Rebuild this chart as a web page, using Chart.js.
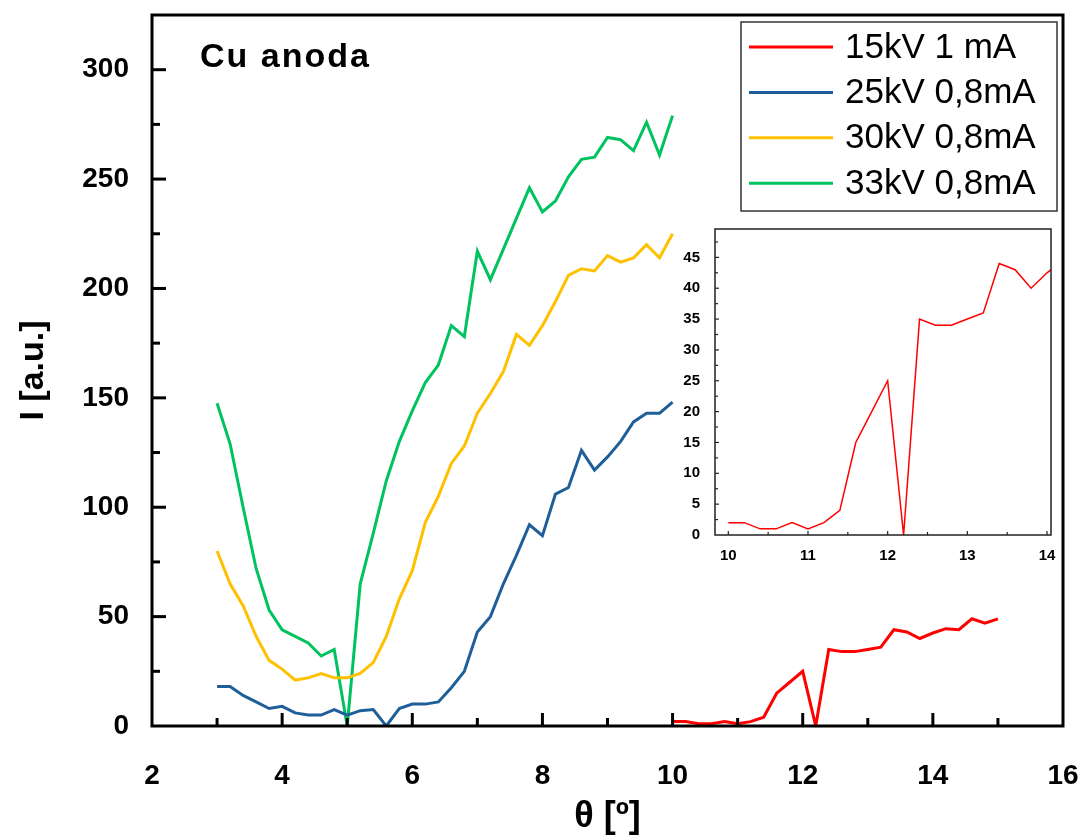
<!DOCTYPE html>
<html>
<head>
<meta charset="utf-8">
<script src="https://cdn.jsdelivr.net/npm/chart.js@4.4.0/dist/chart.umd.min.js"></script>
<style>
  html, body { margin: 0; padding: 0; background: #fff; }
  #wrap { position: relative; width: 1082px; height: 835px; }
  #main { position: absolute; left: 0; top: 0; }
  #inset { position: absolute; left: 680px; top: 222px; }
</style>
</head>
<body>
<div id="wrap">
  <canvas id="main" width="1082" height="835"></canvas>
  <canvas id="inset" width="380" height="340"></canvas>
</div>
<script>
// angles (deg) for the 25/30/33 kV scans
const theta = [3.0, 3.2, 3.4, 3.6, 3.8, 4.0, 4.2, 4.4, 4.6, 4.8, 5.0, 5.2, 5.4, 5.6, 5.8, 6.0, 6.2, 6.4,
               6.6, 6.8, 7.0, 7.2, 7.4, 7.6, 7.8, 8.0, 8.2, 8.4, 8.6, 8.8, 9.0, 9.2, 9.4, 9.6, 9.8, 10.0];
const i25kV = [18, 18, 14, 11, 8, 9, 6, 5, 5, 7.5, 5, 7, 7.5, 0, 8, 10, 10, 11,
               17.5, 25, 43, 50, 65, 78, 92, 87, 106, 109, 126, 117, 123, 130, 139, 143, 143, 148];
const i30kV = [80, 65, 55, 41, 30, 26, 21, 22, 24, 22, 22, 24, 29, 41, 58, 71, 93, 105,
               120, 128, 143, 152, 162, 179, 174, 183, 194, 206, 209, 208, 215, 212, 214, 220, 214, 225];
const i33kV = [147.5, 129, 100, 72, 53, 44, 41, 38, 32, 35, 0, 65, 88, 112, 130, 144, 157, 165,
               183, 178, 217, 204, 218, 232, 246, 235, 240, 251, 259, 260, 269, 268, 263, 276, 261, 279];

// 15 kV scan
const thetaRed = [10.0, 10.2, 10.4, 10.6, 10.8, 11.0, 11.2, 11.4, 11.6, 11.8, 12.0, 12.2, 12.4,
                  12.6, 12.8, 13.0, 13.2, 13.4, 13.6, 13.8, 14.0, 14.2, 14.4, 14.6, 14.8, 15.0];
const i15kV = [2, 2, 1, 1, 2, 1, 2, 4, 15, 20, 25, 0, 35,
               34, 34, 35, 36, 44, 43, 40, 42.5, 44.5, 44, 49, 47, 49];

const seriesLabels = ['15kV 1 mA', '25kV 0,8mA', '30kV 0,8mA', '33kV 0,8mA'];
const seriesColors = ['#ff0000', '#1f5f99', '#ffc000', '#00c25e'];

const FONT = "'Liberation Sans', Arial, sans-serif";

const pts = (xs, ys) => xs.map((x, i) => ({ x: x, y: ys[i] }));

function line(ctx, x1, y1, x2, y2) {
    ctx.beginPath();
    ctx.moveTo(x1, y1);
    ctx.lineTo(x2, y2);
    ctx.stroke();
}

// keep the label overhang from pushing the plot area in
const fitX = (h) => (s) => { s.height = h; s.paddingLeft = 0; s.paddingRight = 0; };
const fitY = (w) => (s) => { s.width = w; s.paddingTop = 0; s.paddingBottom = 0; };

// frame, inward ticks, title text and the boxed legend
const mainDecor = {
    id: 'mainDecor',
    afterDraw(chart) {
        const { ctx, chartArea: a, scales: { x, y } } = chart;
        ctx.save();
        ctx.strokeStyle = '#000';
        ctx.lineWidth = 3;
        for (let v = 3; v < 16; v += 1) {
            const px = x.getPixelForValue(v);
            line(ctx, px, a.bottom, px, a.bottom - (v % 2 === 0 ? 13 : 8));
        }
        for (let v = 25; v <= 300; v += 25) {
            const py = y.getPixelForValue(v);
            line(ctx, a.left, py, a.left + (v % 50 === 0 ? 14 : 8), py);
        }
        ctx.strokeRect(a.left, a.top, a.right - a.left, a.bottom - a.top);

        ctx.fillStyle = '#000';
        ctx.font = 'bold 34px ' + FONT;
        ctx.letterSpacing = '2px';
        ctx.textBaseline = 'alphabetic';
        ctx.fillText('Cu anoda', a.left + 48, a.top + 52);
        ctx.letterSpacing = '0px';

        const lx = a.right - 322, ly = a.top + 7;
        ctx.fillStyle = '#fff';
        ctx.fillRect(lx, ly, 316, 189);
        ctx.lineWidth = 1.5;
        ctx.strokeStyle = '#333';
        ctx.strokeRect(lx, ly, 316, 189);
        ctx.font = '35px ' + FONT;
        ctx.textBaseline = 'middle';
        chart.data.datasets.forEach((ds, i) => {
            const ry = ly + 25 + i * 45.4;
            ctx.strokeStyle = ds.borderColor;
            ctx.lineWidth = 3;
            line(ctx, lx + 8, ry, lx + 92, ry);
            ctx.fillStyle = '#000';
            ctx.fillText(ds.label, lx + 104, ry + 1);
        });
        ctx.restore();
    }
};

const insetDecor = {
    id: 'insetDecor',
    beforeDraw(chart) {
        const { ctx, width, height } = chart;
        ctx.save();
        ctx.fillStyle = '#fff';
        ctx.fillRect(0, 0, width, height);
        ctx.restore();
    },
    afterDraw(chart) {
        const { ctx, chartArea: a, scales: { x, y } } = chart;
        ctx.save();
        ctx.strokeStyle = '#222';
        ctx.lineWidth = 1.2;
        for (let v = 10; v <= 14; v += 0.5) {
            const px = x.getPixelForValue(v);
            line(ctx, px, a.bottom, px, a.bottom - (v % 1 === 0 ? 4 : 3));
        }
        for (let v = 2.5; v <= 47.5; v += 2.5) {
            const py = y.getPixelForValue(v);
            line(ctx, a.left, py, a.left + (v % 5 === 0 ? 4 : 3), py);
        }
        ctx.lineWidth = 1.5;
        ctx.strokeRect(a.left, a.top, a.right - a.left, a.bottom - a.top);
        ctx.restore();
    }
};

const mainChart = new Chart(document.getElementById('main'), {
    type: 'line',
    data: {
        datasets: [
            { label: seriesLabels[0], data: pts(thetaRed, i15kV), borderColor: seriesColors[0] },
            { label: seriesLabels[1], data: pts(theta, i25kV), borderColor: seriesColors[1] },
            { label: seriesLabels[2], data: pts(theta, i30kV), borderColor: seriesColors[2] },
            { label: seriesLabels[3], data: pts(theta, i33kV), borderColor: seriesColors[3] },
        ],
    },
    options: {
        responsive: false,
        animation: false,
        layout: { padding: { top: 15, right: 19, left: 0, bottom: 0 } },
        elements: {
            line: { borderWidth: 3, tension: 0 },
            point: { radius: 0 },
        },
        plugins: { legend: { display: false }, tooltip: { enabled: false } },
        scales: {
            x: {
                type: 'linear',
                min: 2,
                max: 16,
                grid: { display: false },
                border: { display: false },
                ticks: { stepSize: 2, padding: 25, color: '#000', font: { family: FONT, size: 28, weight: 'bold' } },
                title: {
                    display: true,
                    text: 'θ [º]',
                    color: '#000',
                    padding: { top: 0, bottom: 0 },
                    font: { family: FONT, size: 36, weight: 'bold', lineHeight: 1 },
                },
                afterFit: fitX(109),
            },
            y: {
                min: 0,
                max: 325,
                grid: { display: false },
                border: { display: false },
                ticks: { stepSize: 50, includeBounds: false, padding: 15, color: '#000', font: { family: FONT, size: 28, weight: 'bold' } },
                title: {
                    display: true,
                    text: 'I [a.u.]',
                    color: '#000',
                    padding: { top: 13, bottom: 0 },
                    font: { family: FONT, size: 34, weight: 'bold' },
                },
                afterFit: fitY(152),
            },
        },
    },
    plugins: [mainDecor],
});

const insetChart = new Chart(document.getElementById('inset'), {
    type: 'line',
    data: {
        datasets: [
            { label: seriesLabels[0], data: pts(thetaRed, i15kV), borderColor: seriesColors[0], borderWidth: 1.5 },
        ],
    },
    options: {
        responsive: false,
        animation: false,
        layout: { padding: { top: 7, right: 9, left: 0, bottom: 0 } },
        elements: {
            line: { tension: 0 },
            point: { radius: 0 },
        },
        plugins: { legend: { display: false }, tooltip: { enabled: false } },
        scales: {
            x: {
                type: 'linear',
                min: 9.833,
                max: 14.05,
                grid: { display: false },
                border: { display: false },
                ticks: { stepSize: 1, includeBounds: false, padding: 4, color: '#000', font: { family: FONT, size: 15, weight: 'bold' } },
                afterFit: fitX(27),
            },
            y: {
                min: 0,
                max: 49.6,
                grid: { display: false },
                border: { display: false },
                ticks: { stepSize: 5, includeBounds: false, padding: 7, color: '#000', font: { family: FONT, size: 15, weight: 'bold' } },
                afterFit: fitY(35),
            },
        },
    },
    plugins: [insetDecor],
});
</script>
</body>
</html>
